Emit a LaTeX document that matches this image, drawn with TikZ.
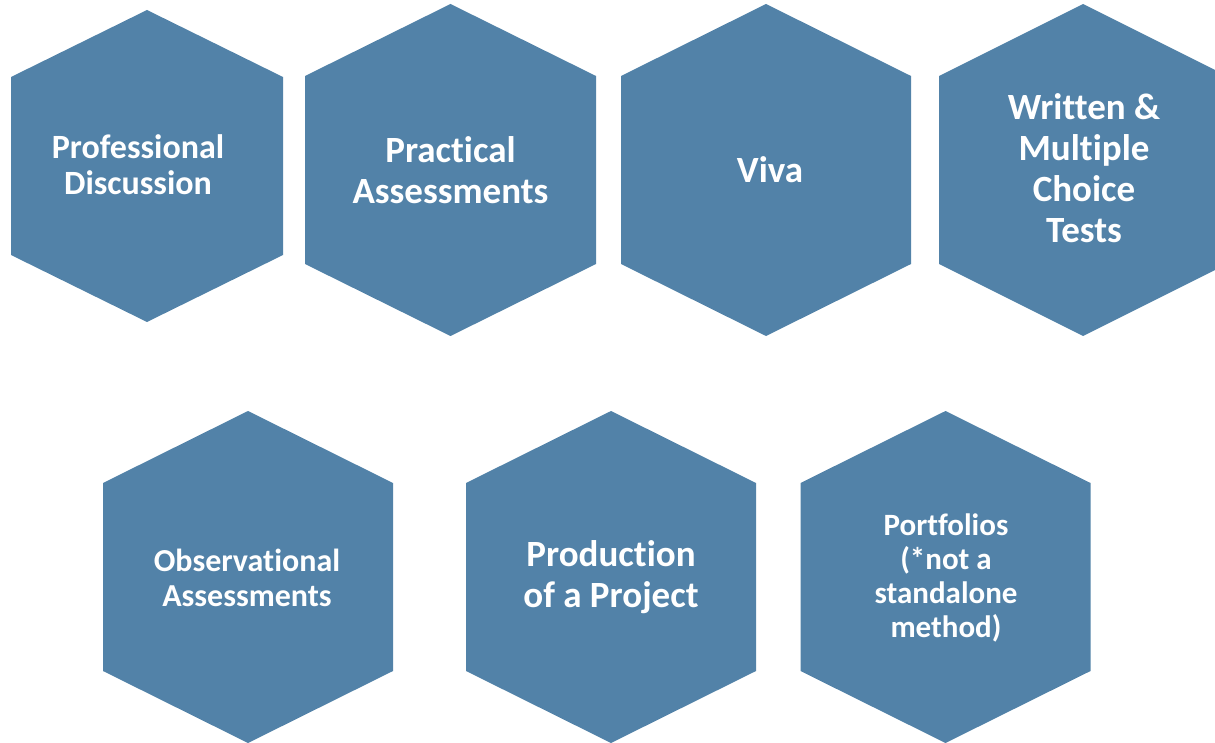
\documentclass[tikz,border=0pt]{standalone}
\usepackage{fontspec}
\setmainfont{Carlito}[RawFeature={-liga;-clig;-dlig}]
\definecolor{hexblue}{RGB}{82,130,168}
\tikzset{
  hexfill/.style={fill=hexblue},
  hexlabel/.style={text=white, align=center, inner sep=0pt},
  big/.style={font=\fontsize{37}{41}\selectfont\bfseries},
  mid/.style={font=\fontsize{34}{36}\selectfont\bfseries},
  obs/.style={font=\fontsize{32}{35}\selectfont\bfseries},
  small/.style={font=\fontsize{31}{34}\selectfont\bfseries}
}
% hexagon with pointed top and bottom: centre (#1,#2), width #3, height #4, side-corner drop #5
\newcommand\hexat[5]{%
  \fill[hexfill] (#1,#2-#4/2) -- (#1+#3/2,#2-#4/2+#5) -- (#1+#3/2,#2+#4/2-#5)
    -- (#1,#2+#4/2) -- (#1-#3/2,#2+#4/2-#5) -- (#1-#3/2,#2-#4/2+#5) -- cycle;}
\begin{document}
\begin{tikzpicture}[x=1pt,y=-1pt]
\useasboundingbox (0,0) rectangle (1215,743);
\clip (0,0) rectangle (1215,743);
% top row
\hexat{147}{166}{272}{312}{67}
\hexat{450.5}{170}{291}{332}{72}
\hexat{766}{170}{290}{332}{72}
\hexat{1083}{170}{288}{332}{72}
% bottom row
\hexat{248}{577}{290}{332}{72}
\hexat{611}{577}{290}{332}{72}
\hexat{945.5}{577}{290}{332}{72}
% labels
\node[hexlabel, mid] (pd) at (138,165) {Professional\\Discussion};
\node[hexlabel, big] (pa) at (450.5,170) {Practical\\Assessments};
\node[hexlabel, big] (viva) at (770,170) {Viva};
\node[hexlabel, big] (wm) at (1084,168.5) {Written \&\\Multiple\\Choice\\Tests};
\node[hexlabel, obs] (oa) at (247,577.5) {Observational\\Assessments};
\node[hexlabel, big] (pp) at (611,577.5) {Production\\of a Project};
\node[hexlabel, small] (pf) at (946,577.5) {Portfolios\\(*not a\\standalone\\method)};
\end{tikzpicture}
\end{document}
